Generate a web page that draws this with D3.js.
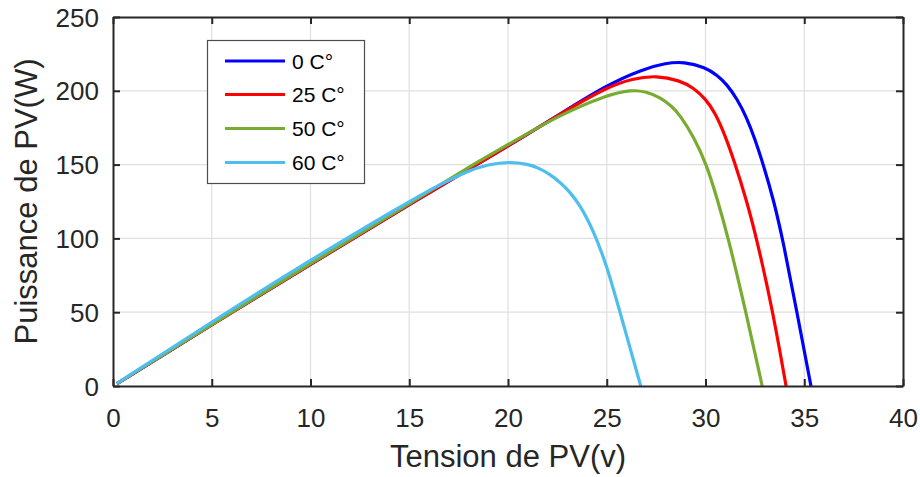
<!DOCTYPE html>
<html><head><meta charset="utf-8">
<script src="https://cdn.jsdelivr.net/npm/d3@7"></script>
<style>body{margin:0;background:#fff;} svg{display:block;font-family:Arial,"Liberation Sans",Helvetica,sans-serif;}</style>
</head><body>
<svg id="c" width="920" height="477"></svg>
<script>
const xTicks = [0,5,10,15,20,25,30,35,40];
const yTicks = [0,50,100,150,200,250];
const seriesNames = ["0 C°","25 C°","50 C°","60 C°"];
const seriesColors = ["#0000ff","#ff0000","#77ac30","#4dbeee"];
// [V, P]
const blue = [[0.2,1.6],[5,41.5],[10,82.5],[15,123],[20,162.5],[22.6,184],[25,204],[26.85,214.8],[28,218.8],[28.9,219.8],[30,215.8],[30.6,210.5],[31.07,204.5],[31.6,194.5],[32.08,182],[32.5,167.5],[32.95,149],[33.45,126],[33.95,97],[34.6,52],[35.34,0]];
const red = [[0.2,1.6],[5,41.5],[10,82.5],[15,123],[20,162.5],[22.6,184],[25,202.5],[26.3,208.3],[27.52,210.4],[28.7,207],[29.4,202],[30,194.5],[30.5,185],[31,169.5],[31.49,151],[32.05,127],[32.59,100],[33.39,52],[34.08,0]];
const green = [[0.2,1.6],[5,41.8],[10,83],[15,123.5],[17.9,147.5],[20,163.5],[22.6,183.6],[25,197.2],[26.26,200.7],[27,199.5],[27.7,195.5],[28.3,189.5],[28.71,183.5],[29.42,168.5],[30.06,150],[30.6,126.5],[31.16,100],[32.05,50],[32.87,0]];
const cyan = [[0.2,1.7],[5,43.5],[10,85.5],[15,125],[16.2,134],[17.9,145.5],[19,150.2],[20.1,152],[21,150.3],[21.6,147.5],[22.1,143.5],[22.6,138.5],[23.1,132],[23.65,122.5],[24.3,106],[25,82],[25.85,41.5],[26.72,0]];
const seriesData = [blue, red, green, cyan];

const svg = d3.select("#c");
const L=113, R=903, T=17, B=386;
const x = d3.scaleLinear().domain([0,40]).range([L,R]);
const y = d3.scaleLinear().domain([0,250]).range([B,T]);
const ink = "#262626";

// grid
const g = svg.append("g");
g.selectAll(".gx").data(xTicks.slice(1,-1)).enter().append("line")
  .attr("x1",d=>x(d)).attr("x2",d=>x(d)).attr("y1",T).attr("y2",B)
  .attr("stroke","#dfdfdf").attr("stroke-width",1.2);
g.selectAll(".gy").data(yTicks.slice(1,-1)).enter().append("line")
  .attr("y1",d=>y(d)).attr("y2",d=>y(d)).attr("x1",L).attr("x2",R)
  .attr("stroke","#dfdfdf").attr("stroke-width",1.2);

// lines
const line = d3.line().x(d=>x(d[0])).y(d=>y(d[1])).curve(d3.curveBasis);
seriesData.forEach((s,i)=>{
  svg.append("path").datum(s).attr("d",line).attr("fill","none")
    .attr("stroke",seriesColors[i]).attr("stroke-width",3.2).attr("stroke-linejoin","round");
});

// axes
const xAxis = d3.axisBottom(x).tickValues(xTicks).tickSizeInner(-7).tickSizeOuter(0).tickPadding(14);
const yAxis = d3.axisLeft(y).tickValues(yTicks).tickSizeInner(-7).tickSizeOuter(0).tickPadding(14);
const gx = svg.append("g").attr("transform",`translate(0,${B})`).call(xAxis);
const gy = svg.append("g").attr("transform",`translate(${L},0)`).call(yAxis);
const gxt = svg.append("g").attr("transform",`translate(0,${T})`).call(d3.axisTop(x).tickValues(xTicks).tickSizeInner(-7).tickSizeOuter(0).tickFormat(""));
const gyr = svg.append("g").attr("transform",`translate(${R},0)`).call(d3.axisRight(y).tickValues(yTicks).tickSizeInner(-7).tickSizeOuter(0).tickFormat(""));
[gx,gy,gxt,gyr].forEach(a=>{
  a.select(".domain").attr("stroke",ink).attr("stroke-width",2);
  a.selectAll(".tick line").attr("stroke",ink).attr("stroke-width",2);
  a.selectAll(".tick text").attr("fill",ink).style("font-size","26px").style("font-family","Arial, 'Liberation Sans', sans-serif");
});
gx.selectAll(".tick text").attr("dy","0.71em").attr("y",23);
gy.selectAll(".tick text").attr("dy","0.35em");

// labels
svg.append("text").attr("x",(L+R)/2).attr("y",467).attr("text-anchor","middle")
  .attr("fill",ink).style("font-size","31px").text("Tension de PV(v)");
svg.append("text").attr("transform",`translate(37,${(T+B)/2}) rotate(-90)`).attr("text-anchor","middle")
  .attr("fill",ink).style("font-size","31px").text("Puissance de PV(W)");

// legend
const lg = svg.append("g");
lg.append("rect").attr("x",207.5).attr("y",40.5).attr("width",157).attr("height",143)
  .attr("fill","#fff").attr("stroke","#4d4d4d").attr("stroke-width",1.2);
const ly = [61,94.5,128.5,162.5];
seriesNames.forEach((n,i)=>{
  lg.append("line").attr("x1",225).attr("x2",285).attr("y1",ly[i]).attr("y2",ly[i])
    .attr("stroke",seriesColors[i]).attr("stroke-width",3.2);
  lg.append("text").attr("x",292).attr("y",ly[i]).attr("dy","0.36em")
    .attr("fill","#000").style("font-size","21px").text(n);
});
</script>
</body></html>
